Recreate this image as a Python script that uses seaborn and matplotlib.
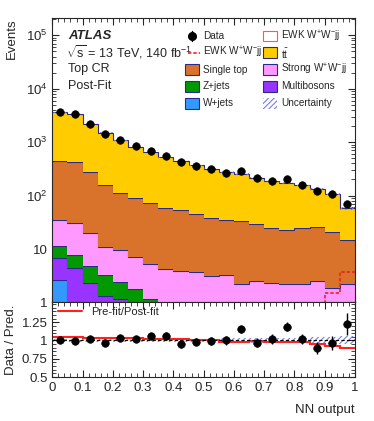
import numpy as np
import matplotlib
matplotlib.use("Agg")
import matplotlib.pyplot as plt
import seaborn as sns
from matplotlib.patches import Rectangle
from matplotlib.lines import Line2D
from matplotlib.ticker import LogLocator, FuncFormatter, MultipleLocator, NullFormatter

# NN output binning (20 bins from 0 to 1)
edges = np.linspace(0, 1, 21)
centers = 0.5 * (edges[1:] + edges[:-1])

# post-fit yields per process
wjets = [2.6, 0.8, 0.5, 0.4, 0.35, 0.3, 0.3, 0.25, 0.2, 0.2, 0.2, 0.2, 0.1, 0.1, 0.1, 0.1, 0.1, 0.1, 0.1, 0.1]
multibosons = [4.3, 3.7, 1.8, 0.9, 0.8, 0.5, 0.35, 0.35, 0.3, 0.3, 0.2, 0.2, 0.2, 0.2, 0.2, 0.2, 0.2, 0.2, 0.2, 0.2]
zjets = [4.3, 3.4, 2.5, 2.0, 1.25, 1.0, 0.5, 0.3, 0.2, 0.2, 0.1, 0.1, 0.1, 0.1, 0.1, 0.1, 0.1, 0.1, 0.1, 0.1]
strong_ww = [23.3, 22.8, 15.0, 7.8, 7.2, 5.3, 4.15, 3.4, 3.2, 3.0, 2.6, 2.8, 1.85, 2.1, 1.9, 1.8, 1.85, 2.1, 1.5, 1.8]
single_top = [410, 394, 255, 149, 103, 84, 66, 55, 51, 42, 35, 31, 31, 26.5, 22.7, 20.8, 22.7, 23.2, 18.8, 12.6]
ttbar = [3155, 2925, 1925, 1340, 967, 724, 589, 461, 395, 324, 282, 240, 217, 188, 163, 149, 130, 106, 88, 43]
ewk_ww = [0.05, 0.05, 0.06, 0.07, 0.08, 0.09, 0.1, 0.12, 0.14, 0.16, 0.18, 0.2, 0.22, 0.25, 0.3, 0.35, 0.45, 0.7, 1.5, 3.7]
rel_unc = [0.015, 0.015, 0.015, 0.015, 0.015, 0.015, 0.015, 0.015, 0.015, 0.02, 0.02, 0.03, 0.035, 0.035, 0.035, 0.04, 0.04, 0.05, 0.05, 0.055]

data = [3600, 3350, 2230, 1450, 1120, 830, 690, 550, 425, 365, 317, 270, 287, 210, 190, 204, 158, 120, 105, 71]
ratio = [1.01, 0.995, 1.02, 0.96, 1.04, 1.02, 1.055, 1.065, 0.945, 0.985, 0.995, 1.0, 1.155, 0.97, 1.02, 1.19, 1.02, 0.90, 0.965, 1.23]
ratio_err = [0.02, 0.02, 0.02, 0.025, 0.03, 0.035, 0.04, 0.045, 0.045, 0.05, 0.055, 0.06, 0.05, 0.065, 0.07, 0.06, 0.075, 0.085, 0.1, 0.15]
prefit_ratio = [1.041, 1.041, 1.037, 1.032, 1.032, 1.028, 1.023, 1.018, 1.014, 1.009, 1.005, 0.982, 0.982, 0.995, 0.986, 0.986, 0.982, 0.949, 0.926, 0.903]

ww = "W$^{+}$W$^{-}$jj"
stack = [
    ("W+jets", wjets, "#3399ff"),
    ("Multibosons", multibosons, "#9933ff"),
    ("Z+jets", zjets, "#009900"),
    ("Strong " + ww, strong_ww, "#ff99ff"),
    ("Single top", single_top, "#d9732b"),
    (r"$t\bar{t}$", ttbar, "#ffcc00"),
]
edge_col = "#2a2a8a"
unc_col = "#7a7aee"

sns.set_style("ticks")
plt.rcParams["font.family"] = ["Liberation Sans", "DejaVu Sans"]
plt.rcParams["mathtext.fontset"] = "custom"
plt.rcParams["mathtext.rm"] = "Liberation Sans"
plt.rcParams["mathtext.it"] = "Liberation Sans:italic"
plt.rcParams["mathtext.bf"] = "Liberation Sans:bold"
plt.rcParams["mathtext.default"] = "regular"
plt.rcParams["hatch.linewidth"] = 0.8

W, H = 374, 421
fig = plt.figure(figsize=(W / 100, H / 100), dpi=100)
ax1 = fig.add_axes([0.1398, 0.2815, 0.8094, 0.6757])
ax2 = fig.add_axes([0.1398, 0.1045, 0.8094, 0.177])

# stacked backgrounds
base = np.full(20, 1e-3)
for name, vals, col in stack:
    top = base + np.array(vals)
    ax1.stairs(top, edges, baseline=base, fill=True, color=col, lw=0)
    ax1.stairs(top, edges, baseline=None, color=edge_col, lw=0.8)
    base = top
total = base

# uncertainty band
unc = np.array(rel_unc)
ax1.stairs(total * (1 + unc), edges, baseline=total * (1 - unc), fill=True,
           facecolor="none", edgecolor=unc_col, hatch="//////", lw=0)

# EWK signal (unstacked)
ax1.stairs(ewk_ww, edges, baseline=None, color="#ee2222", lw=1.2, ls=(0, (2, 1.2)))

# data
sns.scatterplot(x=centers, y=data, ax=ax1, color="black", s=30, edgecolor="black", zorder=5, legend=False)

ax1.set_yscale("log")
ax1.set_xlim(0, 1)
ax1.set_ylim(1, 2.1e5)
ax1.yaxis.set_major_locator(LogLocator(base=10, numticks=10))
ax1.yaxis.set_minor_locator(LogLocator(base=10, subs=np.arange(2, 10), numticks=20))
ax1.yaxis.set_minor_formatter(NullFormatter())


def log_fmt(v, pos):
    if v < 1.5:
        return "1"
    if v < 15:
        return "10"
    return "$10^{%d}$" % round(np.log10(v))


ax1.yaxis.set_major_formatter(FuncFormatter(log_fmt))
ax1.xaxis.set_major_locator(MultipleLocator(0.1))
ax1.xaxis.set_minor_locator(MultipleLocator(0.02))
ax1.tick_params(labelbottom=False)
ax1.set_ylabel("Events", loc="top", fontsize=9.5)
ax1.yaxis.set_label_coords(-0.115, 1.0)

# ratio panel
ax2.stairs(1 + unc, edges, baseline=1 - unc, fill=True, facecolor="none",
           edgecolor=unc_col, hatch="//////", lw=0)
ax2.axhline(1, color="black", lw=0.8, ls=(0, (3, 2)))
ax2.stairs(prefit_ratio, edges, baseline=None, color="#ff2222", lw=1.5, label="Pre-fit/Post-fit")
ax2.errorbar(centers, ratio, yerr=ratio_err, fmt="none", ecolor="black", elinewidth=1.0, zorder=4)
sns.scatterplot(x=centers, y=ratio, ax=ax2, color="black", s=30, edgecolor="black", zorder=5, legend=False)
ax2.set_xlim(0, 1)
ax2.set_ylim(0.5, 1.52)
ax2.set_yticks([0.5, 0.75, 1.0, 1.25])
ax2.set_yticklabels(["0.5", "0.75", "1", "1.25"])
ax2.yaxis.set_minor_locator(MultipleLocator(0.05))
ax2.xaxis.set_major_locator(MultipleLocator(0.1))
ax2.xaxis.set_minor_locator(MultipleLocator(0.02))
ax2.xaxis.set_major_formatter(FuncFormatter(lambda v, p: "%g" % round(v, 2)))
ax2.set_ylabel("Data / Pred.", fontsize=9.5)
ax2.yaxis.set_label_coords(-0.115, 0.5)
ax2.set_xlabel("NN output", loc="right", fontsize=9.5, labelpad=7)
ax2.legend(loc="upper left", frameon=False, fontsize=8, handlelength=2.2,
           borderaxespad=0.1, bbox_to_anchor=(0.0, 1.02))

for ax in (ax1, ax2):
    ax.tick_params(which="both", direction="in", top=True, right=True, labelsize=9.5)
    ax.tick_params(which="major", length=5, width=0.8)
    ax.tick_params(which="minor", length=2.8, width=0.6)
    for s in ax.spines.values():
        s.set_linewidth(0.8)

# labels
fig.text(68 / W, 1 - 36 / H, "ATLAS", fontsize=9.5, fontweight="bold", fontstyle="italic", va="center")
fig.text(66 / W, 1 - 52 / H, r"$\sqrt{s}$ = 13 TeV, 140 fb$^{-1}$", fontsize=9, va="center")
fig.text(68 / W, 1 - 69 / H, "Top CR", fontsize=9, va="center")
fig.text(68 / W, 1 - 86 / H, "Post-Fit", fontsize=9, va="center")

# legend, laid out by hand in figure pixels
rows = [36, 52.7, 69.7, 86.3, 103.3]
cols = [185, 263]


def px(x, y):
    return x / W, 1 - y / H


def leg_box(x, y, face, edge=edge_col, hatch=None, lw=0.8):
    fx, fy = px(x, y + 5.3)
    fig.add_artist(Rectangle((fx, fy), 14 / W, 10.6 / H, transform=fig.transFigure,
                             facecolor=face, edgecolor=edge, hatch=hatch, lw=lw))


def leg_text(x, y, s):
    fig.text(*px(x + 18, y), s, fontsize=7.2, va="center")


# column 1
fig.add_artist(Line2D([px(192, 0)[0]] * 2, [px(0, rows[0] - 5)[1], px(0, rows[0] + 5)[1]],
                      transform=fig.transFigure, color="black", lw=1.0))
fig.add_artist(Line2D([px(192, 0)[0]], [px(0, rows[0])[1]], transform=fig.transFigure,
                      color="black", marker="o", markersize=5.5, ls="none"))
leg_text(cols[0], rows[0], "Data")
fig.add_artist(Line2D([px(188, 0)[0], px(200, 0)[0]], [px(0, rows[1])[1]] * 2,
                      transform=fig.transFigure, color="#ee2222", lw=1.2, ls=(0, (2, 1.2))))
leg_text(cols[0], rows[1], "EWK " + ww)
for r, (lab, col) in enumerate([("Single top", "#d9732b"), ("Z+jets", "#009900"), ("W+jets", "#3399ff")]):
    leg_box(cols[0], rows[r + 2], col)
    leg_text(cols[0], rows[r + 2], lab)

# column 2
leg_box(cols[1], rows[0], "white", "#ff5555")
leg_text(cols[1], rows[0], "EWK " + ww)
for r, (lab, col) in enumerate([(r"$t\bar{t}$", "#ffcc00"), ("Strong " + ww, "#ff99ff"), ("Multibosons", "#9933ff")]):
    leg_box(cols[1], rows[r + 1], col)
    leg_text(cols[1], rows[r + 1], lab)
leg_box(cols[1], rows[4], "none", unc_col, hatch="//////", lw=0)
leg_text(cols[1], rows[4], "Uncertainty")

fig.savefig("out.png", dpi=100)
